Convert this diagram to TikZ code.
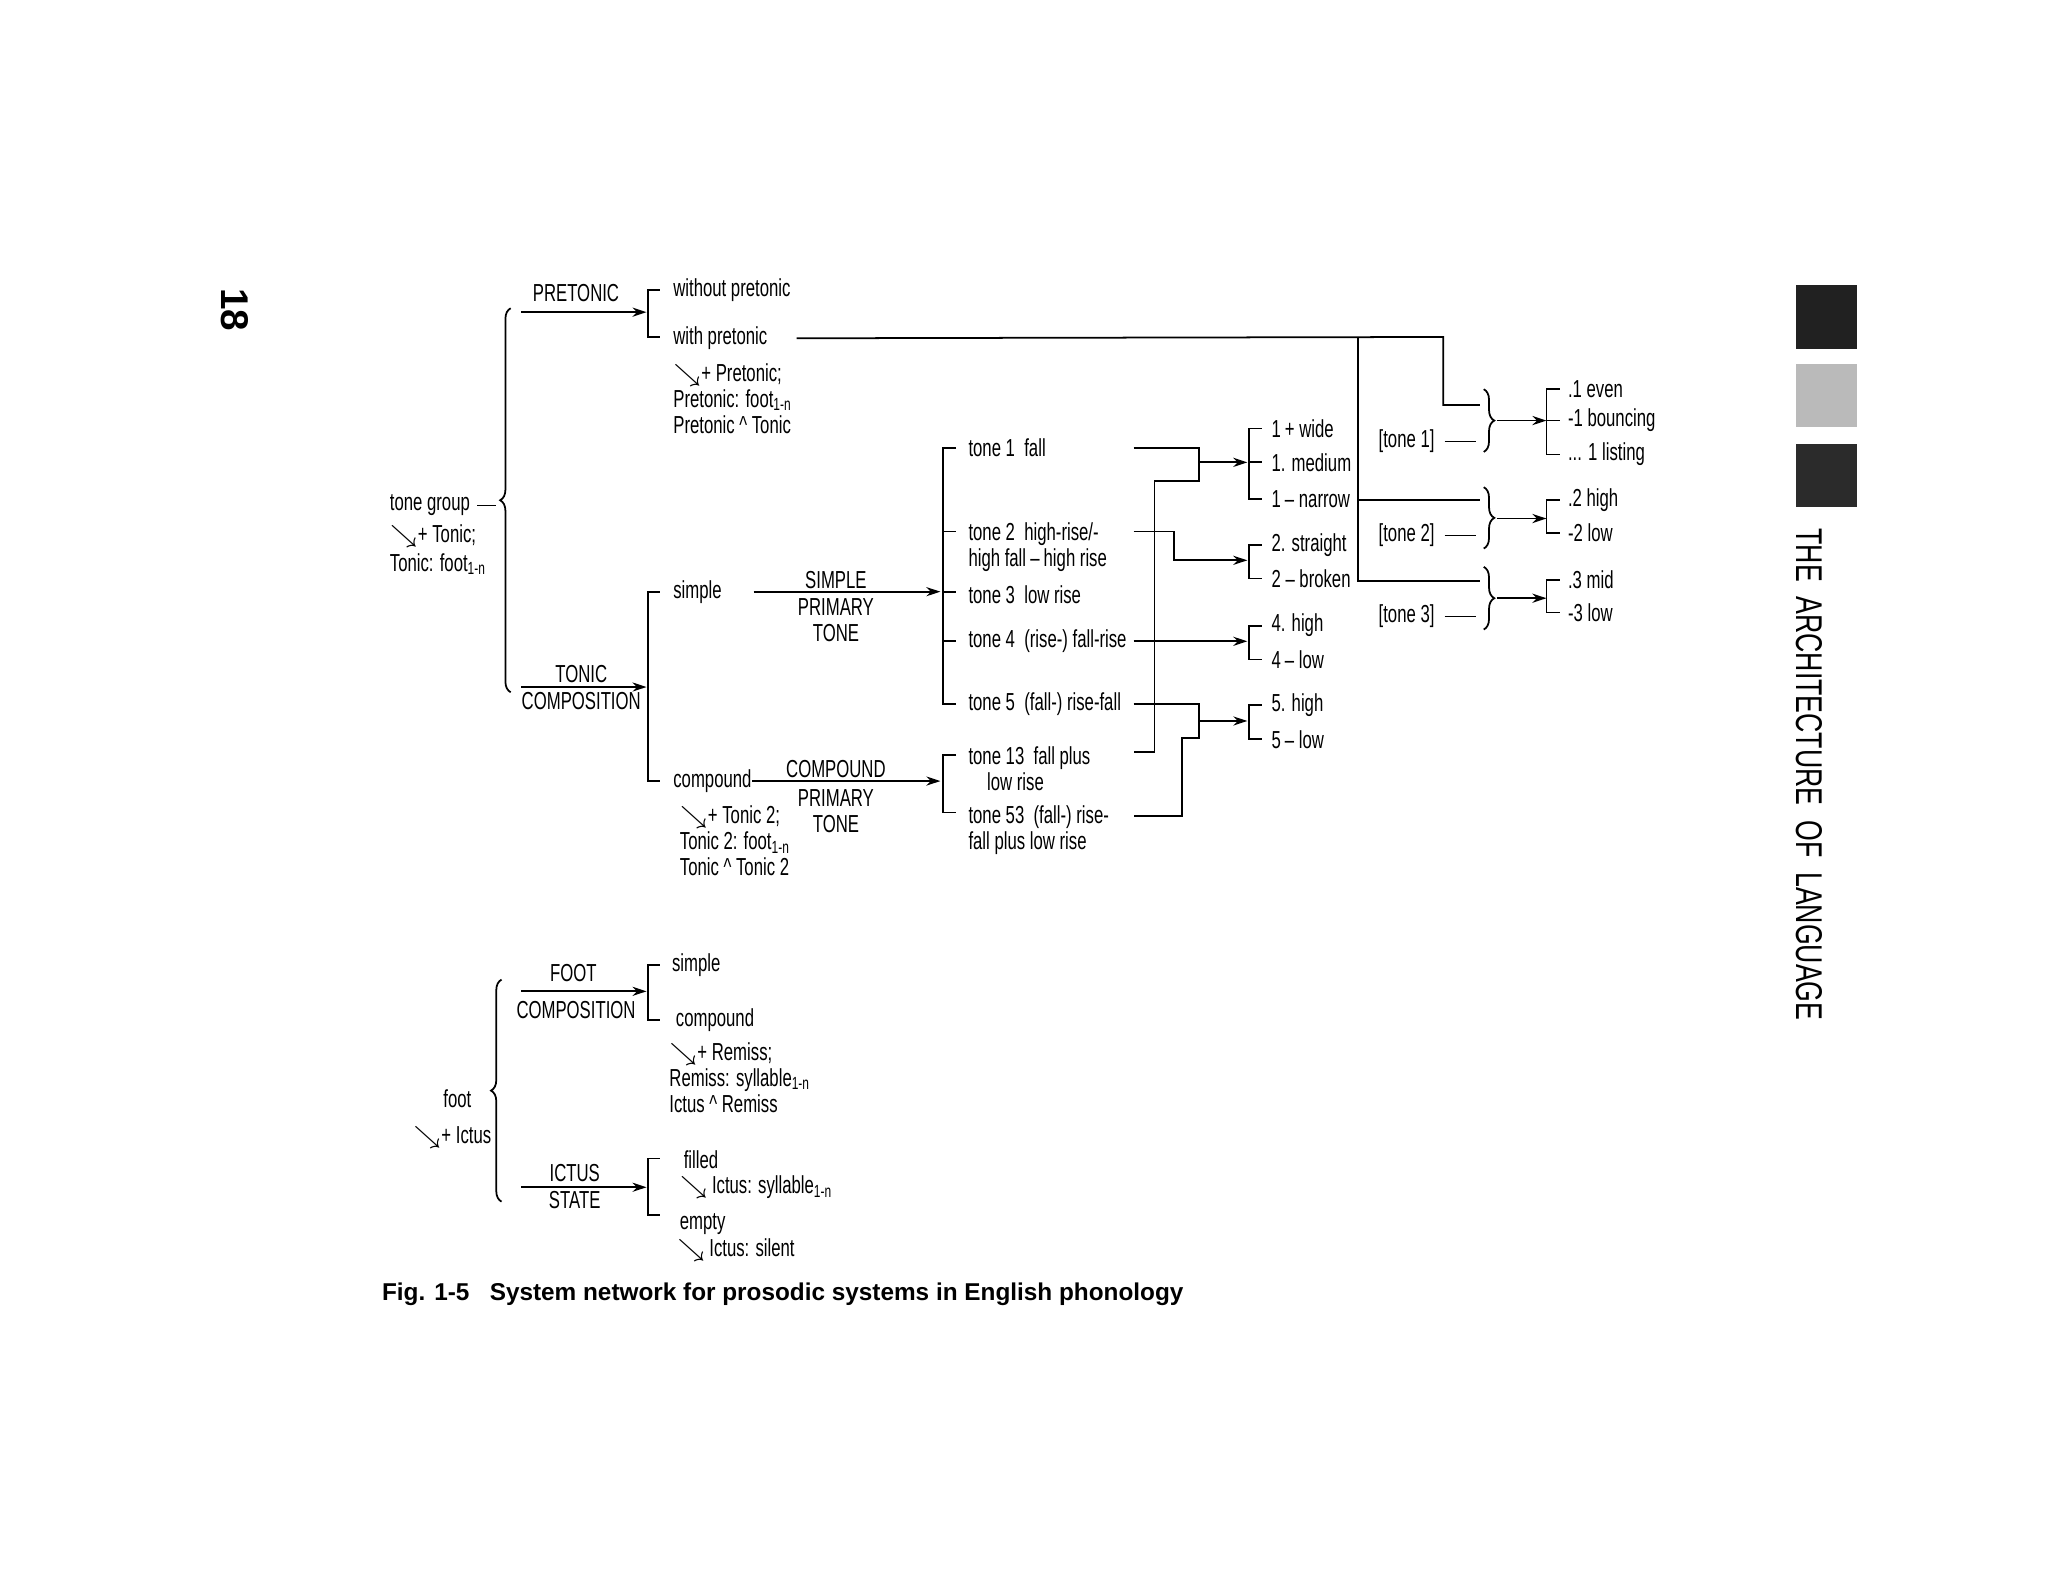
\documentclass[tikz,border=0pt]{standalone}
\usepackage{fontspec}
\setmainfont{Liberation Sans}[FakeStretch=0.68]
\newfontfamily\capfont{Liberation Sans}
\usetikzlibrary{positioning,arrows.meta,decorations.pathreplacing}
\newcommand{\sw}{$\searrow$}
\newcommand{\sub}{\textsubscript{1-n}}
\begin{document}
\begin{tikzpicture}[
        x=0.013061cm, y=-0.013061cm,
        every node/.style={font=\fontsize{7}{7.4}\selectfont, inner sep=0pt},
        txt/.style={anchor=west, align=left},
        lab/.style={align=center},
        arrow/.style={-{Stealth[length=4pt,width=2.6pt]}},
        net/.style={line width=0.5pt},
        lbrace/.style={decorate, decoration={brace, amplitude=3pt}, line width=0.5pt}
    ]
    \useasboundingbox (0,0) rectangle (1568,1211);
    % margins
    \node[rotate=-90, font=\capfont\bfseries\fontsize{11}{11}\selectfont] (page) at (180,237) {18};
    \fill[black!87] (1375,218) rectangle (1422,267);
    \fill[black!27] (1375,279) rectangle (1422,327);
    \fill[black!83] (1375,340) rectangle (1422,388);
    \node[rotate=-90] (title) at (1385,593)
        {\resizebox{140pt}{7.4pt}{\capfont THE\ \ ARCHITECTURE\ \ OF\ \ LANGUAGE}};
    % tone group
    \node[txt] (tg) at (298,387) {tone group};
    \node[txt] (tgr) at (298,410) {\sw + Tonic;};
    \node[txt] (tgf) at (298,432) {Tonic: foot\sub};
    \draw[net] (tg.east) ++(5,0) coordinate (tgl) -- (380,387);
    \draw[lbrace] (391,530) -- (391,236);
    % pretonic
    \coordinate (pre0) at (399,239);
    \coordinate (pre1) at (495,239);
    \draw[net, arrow] (pre0) -- (pre1);
    \node[lab] at (441,224) {PRETONIC};
    \draw[net] (505,222) -| (496,258) -- (505,258);
    \node[txt] (wo) at (515,222) {without pretonic};
    \node[txt] (wi) at (515,259) {with pretonic};
    \node[txt] at (515,305) {\sw + Pretonic;\\Pretonic: foot\sub\\Pretonic \^{} Tonic};
    % tonic
    \coordinate (ton0) at (399,526);
    \coordinate (ton1) at (495,526);
    \draw[net, arrow] (ton0) -- (ton1);
    \node[lab] at (445,516) {TONIC};
    \node[lab] at (445,537) {COMPOSITION};
    \draw[net] (505,453) -| (496,598) -- (505,598);
    \node[txt] (sim) at (515,453) {simple};
    \node[txt] (com) at (515,598) {compound};
    \node[txt] at (520,644) {\sw + Tonic 2;\\Tonic 2: foot\sub\\Tonic \^{} Tonic 2};
    \coordinate (spt) at (720,453);
    \coordinate (cpt) at (720,598);
    \draw[net, arrow] (577,453) -- (spt);
    \node[lab] at (640,444) {SIMPLE};
    \node[lab] at (640,475) {PRIMARY\\TONE};
    \draw[net, arrow] (com.east) -- (cpt);
    \node[lab] at (640,589) {COMPOUND};
    \node[lab] at (640,621) {PRIMARY\\TONE};
    % primary tones
    \draw[net] (732,343) -| (722,539) -- (732,539);
    \foreach \y in {407,453,491} \draw[net] (722,\y) -- (732,\y);
    \node[txt] (t1) at (741,343) {tone 1\ \ fall};
    \node[txt, anchor=north west] (t2) at (741,400) {tone 2\ \ high-rise/-\\high fall\,–\,high rise};
    \node[txt] (t3) at (741,455) {tone 3\ \ low rise};
    \node[txt] (t4) at (741,491) {tone 4\ \ (rise-) fall-rise};
    \node[txt] (t5) at (741,539) {tone 5\ \ (fall-) rise-fall};
    \draw[net] (732,578) -| (722,622) -- (732,622);
    \node[txt, anchor=north west] (t13) at (741,571) {tone 13\ \ fall plus\\\ \ \ \ low rise};
    \node[txt, anchor=north west] (t53) at (741,616) {tone 53\ \ (fall-) rise-\\fall plus low rise};
    % secondary tones
    \coordinate (s1) at (955,354);
    \coordinate (s2) at (955,429);
    \coordinate (s4) at (955,491);
    \coordinate (s5) at (955,552);
    \draw[net] (868,343) -| (918,368) -- (884,368) |- (868,576);
    \draw[net, arrow] (918,354) -- (s1);
    \draw[net, arrow] (868,407) -| (899,429) -- (s2);
    \draw[net, arrow] (868,491) -- (s4);
    \draw[net] (868,539) -| (918,565) -- (905,565) |- (868,625);
    \draw[net, arrow] (918,552) -- (s5);
    \draw[net] (966,328) -| (956,382) -- (966,382);
    \draw[net] (956,354) -- (966,354);
    \draw[net] (966,417) -| (956,443) -- (966,443);
    \draw[net] (966,479) -| (956,505) -- (966,505);
    \draw[net] (966,540) -| (956,566) -- (966,566);
    \node[txt] (w1) at (973,328) {1\,+ wide};
    \node[txt] (m1) at (973,354) {1. medium};
    \node[txt] (n1) at (973,382) {1\,– narrow};
    \node[txt] (st2) at (973,417) {2. straight};
    \node[txt] (br2) at (973,443) {2 – broken};
    \node[txt] (h4) at (973,479) {4. high};
    \node[txt] (l4) at (973,505) {4\,– low};
    \node[txt] (h5) at (973,540) {5. high};
    \node[txt] (l5) at (973,566) {5\,– low};
    % tertiary tones
    \draw[net] (wi.east) ++(22,0) -- (1105,258) -- (1105,310) -- (1133,310);
    \draw[net] (1040,258) -- (1040,445) -- (1133,445);
    \draw[net] (1040,383) -- (1133,383);
    \node[txt] (g1) at (1055,338) {[tone 1]};
    \node[txt] (g2) at (1055,410) {[tone 2]};
    \node[txt] (g3) at (1055,472) {[tone 3]};
    \draw[net] (1106,338) -- (1130,338);
    \draw[net] (1106,410) -- (1130,410);
    \draw[net] (1106,472) -- (1130,472);
    \draw[lbrace] (1136,298) -- (1136,346);
    \draw[lbrace] (1136,373) -- (1136,420);
    \draw[lbrace] (1136,434) -- (1136,482);
    \coordinate (b1) at (1184,322);
    \coordinate (b2) at (1184,397);
    \coordinate (b3) at (1184,458);
    \draw[net, arrow] (1146,322) -- (b1);
    \draw[net, arrow] (1146,397) -- (b2);
    \draw[net, arrow] (1146,458) -- (b3);
    \draw[net] (1194,298) -| (1184,348) -- (1194,348);
    \draw[net] (1184,322) -- (1194,322);
    \draw[net] (1194,383) -| (1184,408) -- (1194,408);
    \draw[net] (1194,444) -| (1184,469) -- (1194,469);
    \node[txt] at (1200,298) {.1 even};
    \node[txt] at (1200,322) {-1 bouncing};
    \node[txt] at (1200,348) {... 1 listing};
    \node[txt] at (1200,383) {.2 high};
    \node[txt] at (1200,408) {-2 low};
    \node[txt] at (1200,444) {.3 mid};
    \node[txt] at (1200,469) {-3 low};
    % foot
    \node[txt] (ft) at (339,841) {foot};
    \node[txt] (ftr) at (316,871) {\sw + Ictus};
    \draw[lbrace] (384,920) -- (384,750);
    \coordinate (fc0) at (399,759);
    \coordinate (fc1) at (495,759);
    \draw[net, arrow] (fc0) -- (fc1);
    \node[lab] at (439,745) {FOOT};
    \node[lab] at (441,773) {COMPOSITION};
    \draw[net] (505,739) -| (496,781) -- (505,781);
    \node[txt] (fs) at (514,739) {simple};
    \node[txt] (fcp) at (517,781) {compound};
    \node[txt] at (512,825) {\sw + Remiss;\\Remiss: syllable\sub\\Ictus \^{} Remiss};
    \coordinate (is0) at (399,909);
    \coordinate (is1) at (495,909);
    \draw[net, arrow] (is0) -- (is1);
    \node[lab] at (440,898) {ICTUS};
    \node[lab] at (440,919) {STATE};
    \draw[net] (505,887) -| (496,930) -- (505,930);
    \node[txt] (fl) at (523,888) {filled};
    \node[txt] at (520,909) {\sw\,Ictus: syllable\sub};
    \node[txt] (em) at (520,937) {empty};
    \node[txt] at (518,957) {\sw\,Ictus: silent};
    % caption
    \node[anchor=west] (cap) at (292,991)
        {\resizebox{228pt}{!}{\capfont\bfseries Fig. 1-5\ \ \ System network for prosodic systems in English phonology}};
\end{tikzpicture}
\end{document}
